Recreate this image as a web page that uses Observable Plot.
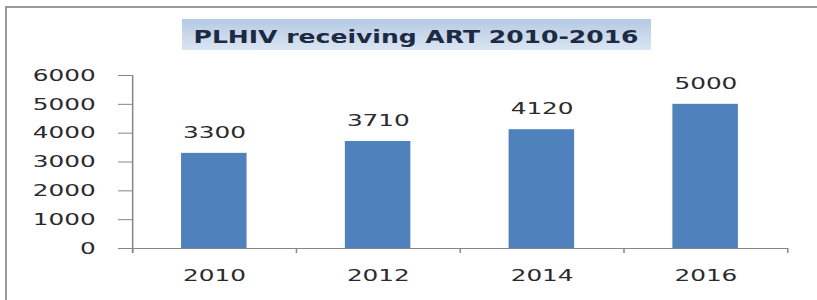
<!DOCTYPE html>
<html>
<head>
<meta charset="utf-8">
<script src="https://cdn.jsdelivr.net/npm/d3@7"></script>
<script src="https://cdn.jsdelivr.net/npm/@observablehq/plot@0.6"></script>
<style>
  html, body { margin: 0; padding: 0; background: #fff; }
  #wrap { position: relative; width: 817px; height: 300px; overflow: hidden; background: #fff; }
  #frame { position: absolute; left: 5px; top: 6px; width: 900px; height: 400px;
           border-left: 2px solid #9a9a9a; border-top: 2px solid #9a9a9a; box-sizing: border-box; }
  #chart { position: absolute; left: 0; top: 0; }
  #title { position: absolute; left: 182px; top: 19px; width: 469px; height: 31px;
           background: linear-gradient(to bottom, #b5c9e4, #dbe5f2);
           display: flex; align-items: center; justify-content: center; }
  #title span { font-family: "DejaVu Sans", sans-serif; font-weight: bold; font-size: 17px;
                color: #1d2a44; display: inline-block; white-space: nowrap; position: relative; top: 2px;
                transform-origin: center center; }
</style>
</head>
<body>
<div id="wrap">
  <div id="frame"></div>
  <div id="chart"></div>
  <div id="title"><span id="titleText">PLHIV receiving ART 2010-2016</span></div>
</div>
<script>
// ---- data ----
const years = [2010, 2012, 2014, 2016];
const values = [3300, 3710, 4120, 5000];
const yTicks = [0, 1000, 2000, 3000, 4000, 5000, 6000];
const xBoundaries = [2009, 2011, 2013, 2015, 2017];

const data = years.map((y, i) => ({year: y, value: values[i]}));

// ---- layout (reference image is horizontally stretched) ----
const W = 545;           // internal width, stretched to 817px
const H = 300;
const axisColor = "#868686";
const textColor = "#2a2a2a";

const chart = Plot.plot({
  width: W,
  height: H,
  marginLeft: 88,
  marginRight: 20,
  marginTop: 75,
  marginBottom: 52,
  x: {type: "linear", domain: [xBoundaries[0], xBoundaries[xBoundaries.length - 1]], label: null},
  y: {domain: [0, 6000], label: null},
  style: {fontFamily: "'DejaVu Sans', sans-serif", fontSize: "16.5px", color: textColor, background: "transparent", overflow: "visible"},
  marks: [
    Plot.rectY(data, {x1: d => d.year - 0.4, x2: d => d.year + 0.4, y: "value", fill: "#4f81bd"}),
    Plot.ruleY([0], {stroke: axisColor}),
    Plot.ruleX([xBoundaries[0]], {stroke: axisColor, insetBottom: -5}),
    Plot.axisY({ticks: yTicks, label: null, tickSize: 9.3, tickPadding: 15.4, tickFormat: d => String(d), stroke: axisColor, fill: textColor}),
    Plot.axisX({ticks: xBoundaries, label: null, tickSize: 5, tickFormat: () => "", stroke: axisColor}),
    Plot.axisX({ticks: years, label: null, tickSize: 0, tickPadding: 21, tickFormat: d => String(d), fill: textColor}),
    Plot.text(data, {x: "year", y: "value", text: d => String(d.value), dy: -21, fill: textColor})
  ]
});

chart.setAttribute("viewBox", `0 0 ${W} ${H}`);
chart.setAttribute("preserveAspectRatio", "none");
chart.setAttribute("width", 817);
chart.setAttribute("height", H);
chart.style.width = "817px";
chart.style.height = H + "px";
chart.style.maxWidth = "none";
document.getElementById("chart").appendChild(chart);

// stretch title text to the reference's width
const t = document.getElementById("titleText");
const w = t.getBoundingClientRect().width;
if (w > 0) t.style.transform = `scaleX(${445 / w})`;
</script>
</body>
</html>
